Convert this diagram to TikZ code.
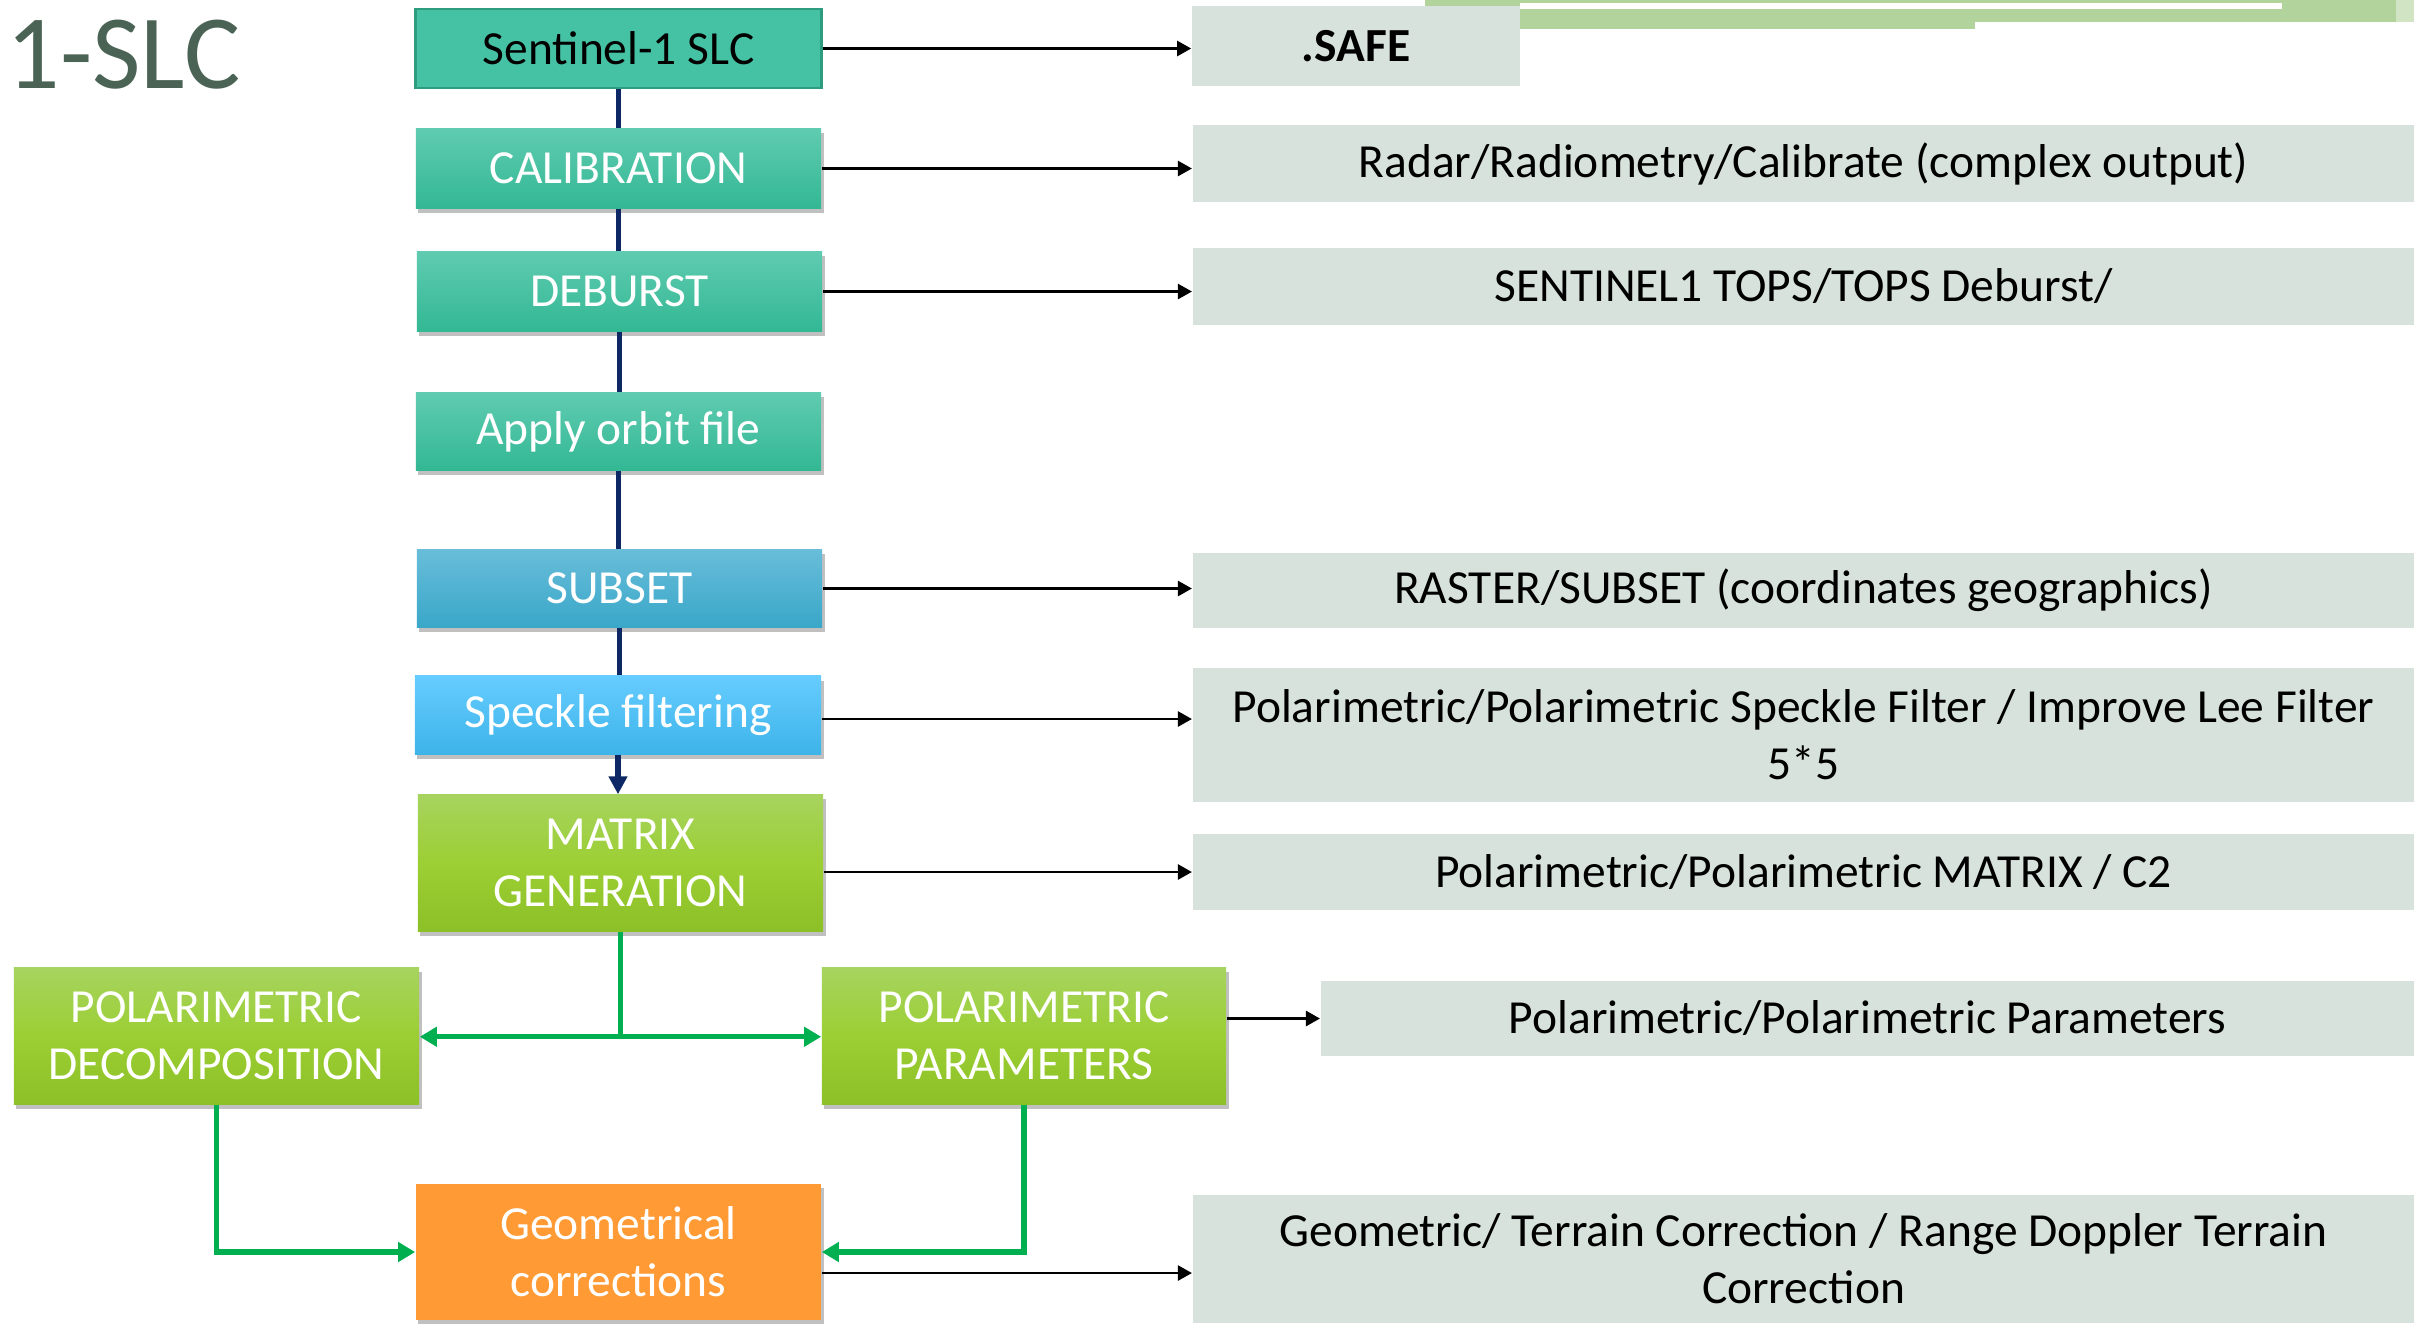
\documentclass[tikz,border=0pt]{standalone}
\usepackage{fontspec}
\setmainfont{Carlito}
\usetikzlibrary{arrows.meta,shadows,calc}
\definecolor{teal0}{HTML}{45C1A3}
\definecolor{tealB}{HTML}{2E9C7F}
\definecolor{tealT}{HTML}{5FCBB0}
\definecolor{tealD}{HTML}{33B894}
\definecolor{blueT}{HTML}{68BDD9}
\definecolor{blueD}{HTML}{3AA7C9}
\definecolor{skyT}{HTML}{66CCFF}
\definecolor{skyD}{HTML}{3DB4E9}
\definecolor{grnT}{HTML}{A7D35F}
\definecolor{grnM}{HTML}{9BCF33}
\definecolor{grnD}{HTML}{8CC027}
\definecolor{orng}{HTML}{FF9A35}
\definecolor{grayf}{HTML}{D8E2DD}
\definecolor{navy}{HTML}{0E2865}
\definecolor{flowgreen}{HTML}{00B050}
\definecolor{barg}{HTML}{B3D39C}
\definecolor{titlec}{HTML}{4A6354}
\begin{document}
\begin{tikzpicture}[x=0.01cm,y=-0.01cm,
  txt/.style={font=\fontsize{13.5}{16.2}\selectfont, align=center, inner sep=0pt},
  shd/.style={drop shadow={shadow xshift=0.025cm, shadow yshift=-0.045cm, opacity=0.35, fill=black!70}},
  procbox/.style={txt, text=white, minimum width=4.05cm, shd},
  tealbox/.style={procbox, top color=tealT, bottom color=tealD, minimum height=0.79cm},
  greenbox/.style={procbox, top color=grnT, bottom color=grnD, middle color=grnM, minimum height=1.36cm},
  gbox/.style={txt, text=black, fill=grayf},
  blk/.style={draw=black, line width=0.7pt, -{Triangle[length=0.14cm,width=0.15cm]}},
  nav/.style={draw=navy, line width=1.5pt},
  gln/.style={draw=flowgreen, line width=1.5pt, -{Triangle[length=0.17cm,width=0.19cm]}}
]
\useasboundingbox (0,0) rectangle (2414,1323);
\fill[white] (0,0) rectangle (2414,1323);

% decorative green bars at the top
\fill[barg] (1425,0) rectangle (2414,3);
\fill[barg] (1425,0) rectangle (1520,6);
\fill[barg] (1520,9) rectangle (1975,29);
\fill[barg] (1975,9) rectangle (2396,22);
\fill[barg] (2282,0) rectangle (2396,9);
\fill[barg!60] (2396,0) rectangle (2414,22);

% title
\node[anchor=base west, inner sep=0pt, font=\fontsize{30}{36}\selectfont, text=titlec] (title) at (6,88) {1-SLC};

% process boxes
\node[txt, text=black, minimum width=4.05cm, minimum height=0.79cm, fill=teal0, draw=tealB, line width=0.8pt] (s1) at (618.5,48.5) {Sentinel-1 SLC};
\node[tealbox] (cal) at (618.5,168.5) {CALIBRATION};
\node[tealbox] (deb) at (619.5,291.5) {DEBURST};
\node[tealbox, minimum height=0.77cm] (orb) at (618.5,431.5) {Apply orbit file};
\node[procbox, top color=blueT, bottom color=blueD, minimum height=0.77cm] (sub) at (619.5,588.5) {SUBSET};
\node[procbox, top color=skyT, bottom color=skyD, minimum height=0.78cm, minimum width=4.06cm] (spk) at (618,715) {Speckle filtering};
\node[greenbox] (mat) at (620.5,863) {MATRIX\\GENERATION};
\node[greenbox] (pd) at (216.5,1036) {POLARIMETRIC\\DECOMPOSITION};
\node[greenbox, minimum width=4.04cm] (pp) at (1024,1036) {POLARIMETRIC\\PARAMETERS};
\node[procbox, fill=orng, minimum height=1.36cm] (geo) at (618.5,1252) {Geometrical\\corrections};

% gray description boxes
\node[gbox, minimum width=3.28cm, minimum height=0.80cm, font=\fontsize{13.5}{16.2}\selectfont\bfseries] (safe) at (1356,46) {.SAFE};
\node[gbox, minimum width=12.21cm, minimum height=0.77cm] (rad) at (1803.5,163.5) {Radar/Radiometry/Calibrate (complex output)};
\node[gbox, minimum width=12.21cm, minimum height=0.77cm] (tops) at (1803.5,286.5) {SENTINEL1 TOPS/TOPS Deburst/};
\node[gbox, minimum width=12.21cm, minimum height=0.75cm] (rast) at (1803.5,590.5) {RASTER/SUBSET (coordinates geographics)};
\node[gbox, minimum width=12.21cm, minimum height=1.34cm] (pspk) at (1803.5,735) {Polarimetric/Polarimetric Speckle Filter / Improve Lee Filter\\5*5};
\node[gbox, minimum width=12.21cm, minimum height=0.76cm] (pmat) at (1803.5,872) {Polarimetric/Polarimetric MATRIX / C2};
\node[gbox, minimum width=10.93cm, minimum height=0.75cm] (ppar) at (1867.5,1018.5) {Polarimetric/Polarimetric Parameters};
\node[gbox, minimum width=12.21cm, minimum height=1.28cm] (geom) at (1803.5,1259) {Geometric/ Terrain Correction / Range Doppler Terrain\\Correction};

% navy main chain
\draw[nav] (s1.south) -- (s1.south |- cal.north);
\draw[nav] (cal.south) -- (cal.south |- deb.north);
\draw[nav] (deb.south) -- (deb.south |- orb.north);
\draw[nav] (orb.south) -- (orb.south |- sub.north);
\draw[nav] (sub.south) -- (sub.south |- spk.north);
\draw[nav, -{Triangle[length=0.18cm,width=0.18cm]}] (spk.south) -- (spk.south |- mat.north);

% black arrows to descriptions
\draw[blk] (s1.east) -- (s1.east -| safe.west);
\draw[blk] (cal.east) -- (cal.east -| rad.west);
\draw[blk] (deb.east) -- (deb.east -| tops.west);
\draw[blk] (sub.east) -- (sub.east -| rast.west);
\draw[blk] ([yshift=-0.04cm]spk.east) -- ([yshift=-0.04cm]spk.east -| pspk.west);
\draw[blk] (mat.east |- pmat.west) -- (pmat.west);
\draw[blk] (pp.east |- ppar.west) -- (ppar.west);
\draw[blk] ([yshift=-0.21cm]geo.east) -- ([yshift=-0.21cm]geo.east -| geom.west);

% green flows
\coordinate (jn) at ($(mat.south)+(0,105)$);
\draw[draw=flowgreen, line width=1.5pt] (mat.south) -- (jn);
\draw[gln] (jn) -- (jn -| pd.east);
\draw[gln] (jn) -- (jn -| pp.west);
\draw[gln] (pd.south) |- (geo.west);
\draw[gln] (pp.south) |- (geo.east);
\end{tikzpicture}
\end{document}
